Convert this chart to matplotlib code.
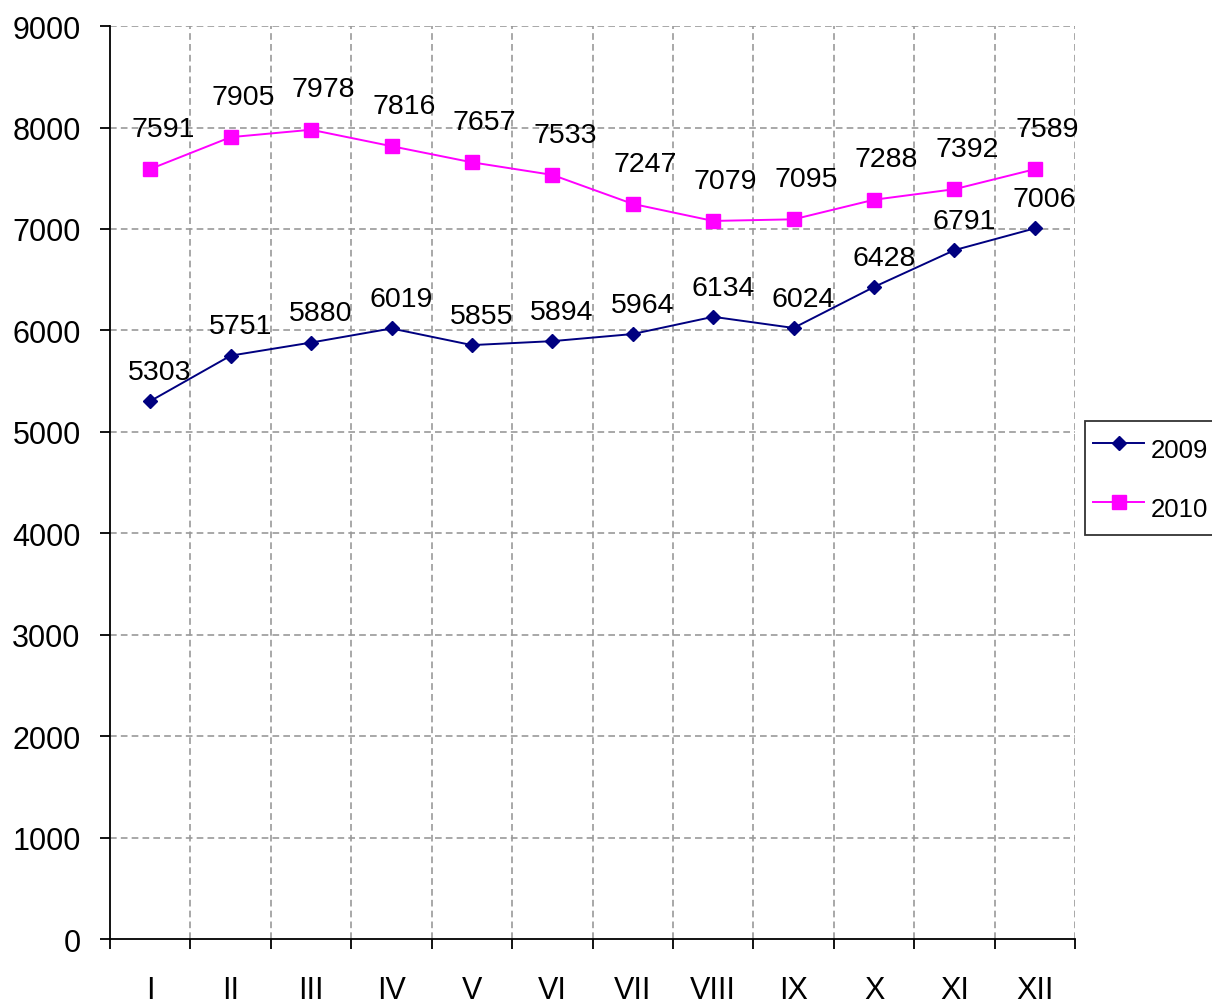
import numpy as np
import matplotlib
matplotlib.use("Agg")
import matplotlib.pyplot as plt

plt.rcParams['font.family'] = ['Liberation Sans', 'DejaVu Sans']

months = ['I', 'II', 'III', 'IV', 'V', 'VI', 'VII', 'VIII', 'IX', 'X', 'XI', 'XII']
values_2009 = [5303, 5751, 5880, 6019, 5855, 5894, 5964, 6134, 6024, 6428, 6791, 7006]
values_2010 = [7591, 7905, 7978, 7816, 7657, 7533, 7247, 7079, 7095, 7288, 7392, 7589]
y_ticks = [0, 1000, 2000, 3000, 4000, 5000, 6000, 7000, 8000, 9000]

fig = plt.figure(figsize=(12.12, 10.03), dpi=100)
ax = fig.add_axes([0.0908, 0.0628, 0.7962, 0.9102])

x = np.arange(len(months))
l1, = ax.plot(x, values_2009, color='#000080', marker='D', markersize=7.5, linewidth=1.4, label='2009')
l2, = ax.plot(x, values_2010, color='#FF00FF', marker='s', markersize=10, linewidth=1.4, label='2010')

# data labels above the points
for xi, v in zip(x, values_2009):
    ax.annotate(str(v), (xi, v), xytext=(7, 21), textcoords='offset points',
                ha='center', va='center', fontsize=20.5)
for xi, v in zip(x, values_2010):
    ax.annotate(str(v), (xi, v), xytext=(9, 29), textcoords='offset points',
                ha='center', va='center', fontsize=20.5)

ax.set_xlim(-0.5, len(months) - 0.5)
ax.set_ylim(0, 9000)
ax.set_yticks(y_ticks)
ax.tick_params(axis='y', labelsize=22, length=7.2, width=1.3, direction='out', pad=14)

ax.set_xticks(x)
ax.set_xticklabels(months, fontsize=22)
ax.set_xticks(np.arange(-0.5, len(months), 1), minor=True)
ax.tick_params(axis='x', which='major', length=0, pad=26)
ax.tick_params(axis='x', which='minor', length=7.2, width=1.3, direction='out')

ax.grid(False)
for xb in np.arange(0.5, len(months), 1):
    ax.axvline(xb, color='#999999', linestyle=(0, (4, 2.5)), linewidth=1.2, zorder=0)
for yt in y_ticks[1:]:
    ax.axhline(yt, color='#999999', linestyle=(0, (4, 2.5)), linewidth=1.2, zorder=0)

ax.spines['top'].set_visible(False)
ax.spines['right'].set_visible(False)
ax.spines['left'].set_linewidth(1.3)
ax.spines['bottom'].set_linewidth(1.3)

leg = fig.legend(handles=[l1, l2], loc='upper left', bbox_to_anchor=(0.8955, 0.579),
                 fontsize=18.5, frameon=True, fancybox=False, edgecolor='black',
                 borderpad=0.3, labelspacing=0.75, handlelength=2.0, handleheight=2.0,
                 handletextpad=0.25, borderaxespad=0)
leg.get_frame().set_linewidth(1.3)

fig.savefig('out.png', dpi=100)
